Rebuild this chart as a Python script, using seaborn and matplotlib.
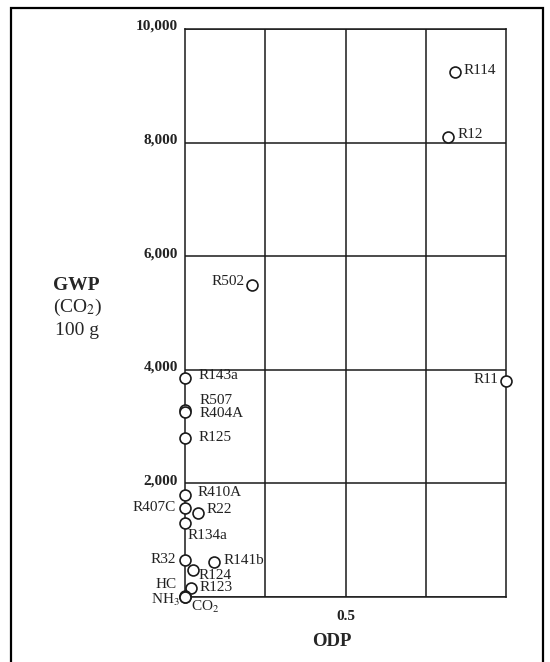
import pandas as pd
import seaborn as sns
import matplotlib.pyplot as plt
from matplotlib.patches import Rectangle
from matplotlib.transforms import ScaledTranslation

# refrigerants: ozone depletion potential vs global warming potential
refrigerants = ["R114", "R12", "R11", "R502", "R143a", "R507", "R404A", "R125",
                "R410A", "R407C", "R22", "R134a", "R32", "R141b", "R124", "R123",
                "HC", "NH$_3$", "CO$_2$"]
odp = [0.84, 0.82, 1.0, 0.21, 0.0, 0.0, 0.0, 0.0,
       0.0, 0.0, 0.04, 0.0, 0.0, 0.09, 0.025, 0.02,
       0.0, 0.0, 0.0]
gwp = [9250, 8100, 3800, 5500, 3850, 3300, 3250, 2800,
       1800, 1570, 1480, 1300, 650, 620, 470, 160,
       20, 0, 1]

y_ticks = [0, 2000, 4000, 6000, 8000, 10000]
y_tick_labels = ["", "2,000", "4,000", "6,000", "8,000", "10,000"]
x_ticks = [0.25, 0.5, 0.75]
x_tick_labels = ["", "0.5", ""]

# label offsets in pixels (dx, dy) and alignment
label_pos = {
    "R114": (9, 1, "left"), "R12": (9, 2, "left"), "R11": (-8, 2, "right"),
    "R502": (-8, 3, "right"), "R143a": (14, 3, "left"), "R507": (15, 9, "left"),
    "R404A": (15, -1, "left"), "R125": (14, 0, "left"), "R410A": (13, 2, "left"),
    "R407C": (-9, 0, "right"), "R22": (9, 3, "left"), "R134a": (3, -12, "left"),
    "R32": (-9, 1, "right"), "R141b": (10, 1, "left"), "R124": (6, -5, "left"),
    "R123": (8, 0, "left"), "HC": (-8, 11, "right"), "NH$_3$": (-5, -3, "right"),
    "CO$_2$": (6, -10, "left"),
}

df = pd.DataFrame({"name": refrigerants, "ODP": odp, "GWP": gwp})

sns.set_style("white")
plt.rcParams["font.family"] = ["Liberation Serif", "DejaVu Serif"]
plt.rcParams["mathtext.fontset"] = "stix"

fig = plt.figure(figsize=(5.5, 6.62), dpi=100)
ax = fig.add_axes([185 / 550, 1 - 597 / 662, 321 / 550, 568 / 662])

line_col = "#1a1a1a"
ax.set_xlim(0, 1)
ax.set_ylim(0, 10000)
ax.set_xticks(x_ticks)
ax.set_xticklabels(x_tick_labels, fontsize=11, fontweight="bold", color="#222222")
ax.set_yticks(y_ticks)
ax.set_yticklabels(y_tick_labels, fontsize=11, fontweight="bold", color="#222222")
ax.tick_params(axis="both", length=0)
ax.tick_params(axis="y", pad=5)
ax.tick_params(axis="x", pad=9)
for lab in ax.get_yticklabels():
    lab.set_transform(lab.get_transform() + ScaledTranslation(0, 4 / 100, fig.dpi_scale_trans))
ax.grid(True, color=line_col, linewidth=1.1)
for sp in ax.spines.values():
    sp.set_color(line_col)
    sp.set_linewidth(1.1)

sns.scatterplot(data=df, x="ODP", y="GWP", ax=ax, marker="o", s=62,
                facecolor="white", edgecolor=line_col, linewidth=1.2,
                clip_on=False, zorder=5, legend=False)

for name, x, y in zip(refrigerants, odp, gwp):
    dx, dy, ha = label_pos[name]
    ax.annotate(name, (x, y), xytext=(dx, dy), textcoords="offset pixels",
                ha=ha, va="center", fontsize=11, color="#222222",
                zorder=6, annotation_clip=False)

ax.set_xlabel("ODP", fontsize=13.5, fontweight="bold", va="center")
ax.xaxis.set_label_coords(0.458, -0.079)
ax.set_ylabel("")

ax.text(-0.411, 0.549, "GWP", transform=ax.transAxes, fontsize=14,
        fontweight="bold", va="center", ha="left")
ax.text(-0.411, 0.509, "(CO$_2$)", transform=ax.transAxes, fontsize=14,
        va="center", ha="left")
ax.text(-0.405, 0.470, "100 g", transform=ax.transAxes, fontsize=14,
        va="center", ha="left")

# outer frame of the figure
fig.patches.append(Rectangle((11 / 550, -0.05), 532 / 550, 1.05 - 8 / 662,
                             transform=fig.transFigure, fill=False,
                             edgecolor="black", linewidth=1.6))

fig.savefig("out.png", dpi=100)
